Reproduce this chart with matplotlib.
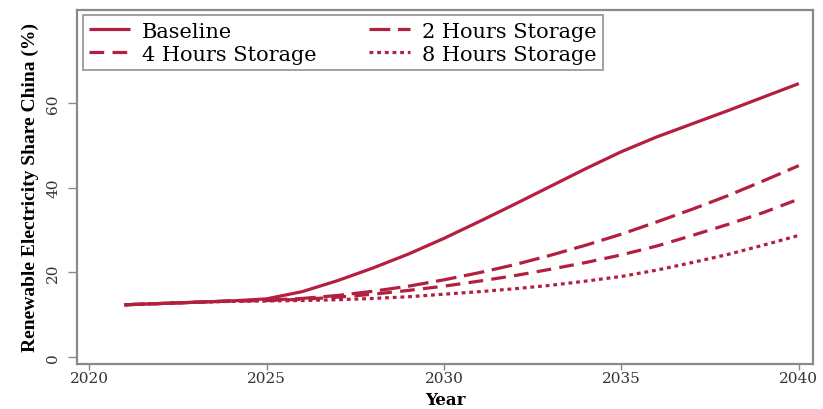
import matplotlib
matplotlib.use("Agg")
import matplotlib.pyplot as plt

# Renewable electricity share in China under storage scenarios (%)
years = list(range(2021, 2041))
baseline = [12.3, 12.6, 12.9, 13.2, 13.7, 15.4, 18.0, 21.0, 24.3, 28.0,
            32.0, 36.1, 40.3, 44.5, 48.5, 52.0, 55.1, 58.2, 61.4, 64.6]
storage_2h = [12.3, 12.6, 12.9, 13.2, 13.4, 13.8, 14.5, 15.5, 16.7, 18.2,
              19.9, 21.8, 24.0, 26.4, 29.0, 31.9, 34.9, 38.1, 41.6, 45.2]
storage_4h = [12.3, 12.6, 12.9, 13.2, 13.3, 13.6, 14.1, 14.8, 15.7, 16.7,
              17.9, 19.2, 20.7, 22.3, 24.1, 26.2, 28.7, 31.3, 34.1, 37.3]
storage_8h = [12.3, 12.6, 12.9, 13.1, 13.2, 13.3, 13.5, 13.8, 14.2, 14.8,
              15.4, 16.1, 16.9, 17.9, 19.0, 20.5, 22.3, 24.2, 26.4, 28.7]

labels = ["Baseline", "2 Hours Storage", "4 Hours Storage", "8 Hours Storage"]
xticks = [2020, 2025, 2030, 2035, 2040]
yticks = [0, 20, 40, 60]

color = "#B3203F"
frame = "#8a8a8a"
serif_wide = ["DejaVu Serif"]
serif_narrow = ["Liberation Serif", "DejaVu Serif"]
plt.rcParams["font.family"] = serif_wide

W, H = 823, 410
fig = plt.figure(figsize=(W / 100, H / 100), dpi=100)
left, right, top, bottom = 77, 813, 11, 365
ax = fig.add_axes([left / W, 1 - bottom / H, (right - left) / W,
                   (bottom - top) / H])

lw = 2.3
l0, = ax.plot(years, baseline, color=color, lw=lw, solid_capstyle="butt")
l2, = ax.plot(years, storage_2h, color=color, lw=lw, dashes=(6.5, 2.4),
              dash_capstyle="butt")
l4, = ax.plot(years, storage_4h, color=color, lw=lw, dashes=(4.6, 2.6),
              dash_capstyle="butt")
l8, = ax.plot(years, storage_8h, color=color, lw=lw, dashes=(1.2, 1.2),
              dash_capstyle="butt")

ax.set_xlim(2019.66, 2040.4)
ax.set_ylim(-1.7, 82)
ax.set_xticks(xticks)
ax.set_yticks(yticks)
ax.tick_params(axis="both", direction="out", width=1.0,
               color=frame, labelsize=11, labelcolor="#333333")
ax.tick_params(axis="x", length=4.5, pad=0.5)
ax.tick_params(axis="y", length=6.5, pad=5.5)
for lab in ax.get_yticklabels():
    lab.set_rotation(90)
    lab.set_va("center")
for s in ax.spines.values():
    s.set_color(frame)
    s.set_linewidth(1.6)

ax.set_xlabel("Year", fontsize=12, fontweight="bold", va="bottom")
ax.xaxis.set_label_coords(0.5, -(H - bottom - 0.7) / (bottom - top))
ax.set_ylabel("Renewable Electricity Share China (%)", fontsize=14,
              fontweight="bold", family=serif_narrow, labelpad=5)

leg = ax.legend([l0, l4, l2, l8],
                [labels[0], labels[2], labels[1], labels[3]],
                ncol=2, loc="upper left", bbox_to_anchor=(0.008, 0.985),
                prop={"family": serif_wide, "size": 15},
                frameon=True, fancybox=False, handlelength=1.95,
                handletextpad=0.6, columnspacing=2.5, borderpad=0.3,
                labelspacing=0.2, borderaxespad=0)
leg.get_frame().set_edgecolor(frame)
leg.get_frame().set_linewidth(1.4)

fig.savefig("out.png", dpi=100)
